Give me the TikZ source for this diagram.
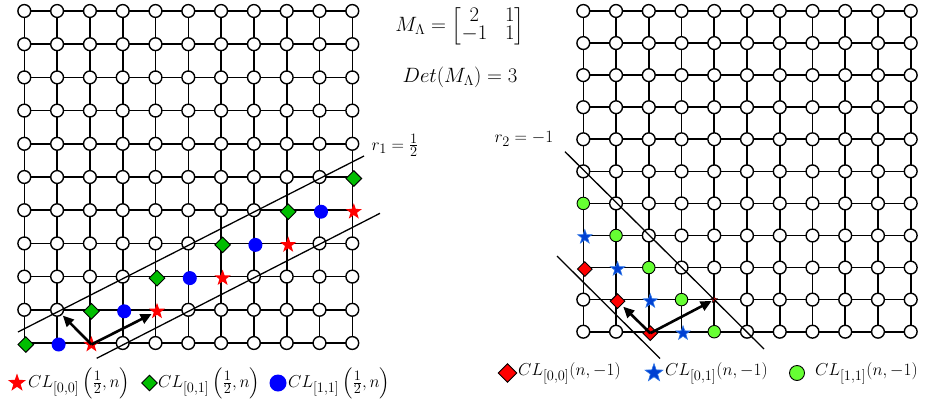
\documentclass[tikz,border=0pt]{standalone}
\usepackage{amsmath}
\usetikzlibrary{shapes.geometric,arrows.meta}
\definecolor{mred}{RGB}{255,0,0}
\definecolor{mgreen}{RGB}{0,190,0}
\definecolor{mblue}{RGB}{0,0,255}
\definecolor{sblue}{RGB}{0,64,210}
\definecolor{sblueedge}{RGB}{50,120,230}
\definecolor{lgreen}{RGB}{102,255,51}
\begin{document}
\begin{tikzpicture}[x=1pt,y=-1pt,
 dot/.style={circle,draw,fill=white,line width=1.4pt,minimum size=12.8pt,inner sep=0pt},
 gridline/.style={line width=1.6pt},
 cutline/.style={line width=1.3pt},
 vec/.style={line width=2.6pt,-{Triangle[length=11pt,width=10pt]}},
 rstar/.style={star,star points=5,star point ratio=2.5,fill=mred,inner sep=0pt,minimum size=17pt},
 gdiam/.style={diamond,draw,line width=0.9pt,fill=mgreen,inner sep=0pt,minimum size=16pt},
 bdot/.style={circle,fill=mblue,inner sep=0pt,minimum size=14pt},
 rdiam/.style={diamond,draw,line width=0.9pt,fill=mred,inner sep=0pt,minimum size=15pt},
 bstar/.style={star,star points=5,star point ratio=2.5,fill=sblue,draw=sblueedge,line width=0.6pt,inner sep=0pt,minimum size=15pt},
 tstar/.style={star,star points=5,star point ratio=2.3,fill=mred,draw=black,line width=0.4pt,inner sep=0pt,minimum size=7pt},
 gdot/.style={circle,draw,line width=0.9pt,fill=lgreen,inner sep=0pt,minimum size=12.5pt},
 lab/.style={inner sep=0pt,font=\fontsize{19}{23}\selectfont},
 biglab/.style={inner sep=0pt,font=\fontsize{20.5}{19}\selectfont},
 matlab/.style={inner sep=0pt,font=\fontsize{19.5}{17}\selectfont},
 mk/.style={xshift=1.5pt,yshift=-1.5pt}]
\useasboundingbox (0,0) rectangle (933,404);
% lattice coordinates
\foreach \i in {0,...,10}{\foreach \j in {0,...,10}{
  \coordinate (L-\i-\j) at ({24.3+32.8*\i},{343-33.2*\j});
  \coordinate (R-\i-\j) at ({583.3+32.74*\i},{331.7-32.07*\j});
}}
% grid lines
\foreach \k in {0,...,10}{
  \draw[gridline] (L-0-\k) -- (L-10-\k);
  \draw[gridline] (L-\k-0) -- (L-\k-10);
  \draw[gridline] (R-0-\k) -- (R-10-\k);
  \draw[gridline] (R-\k-0) -- (R-\k-10);
}
% white lattice circles
\foreach \i in {0,...,10}{\foreach \j in {0,...,10}{
  \pgfmathtruncatemacro\dl{\i-2*\j}
  \pgfmathtruncatemacro\dr{\i+\j}
  \pgfmathtruncatemacro\ml{and(\dl>-1,\dl<3)}
  \pgfmathtruncatemacro\mr{or(and(\dr>1,\dr<5),and(\i==4,\j==1))}
  \ifnum\ml=0 \node[dot] (LC-\i-\j) at (L-\i-\j) {};\fi
  \ifnum\mr=0 \node[dot] (RC-\i-\j) at (R-\i-\j) {};\fi
}}
% left markers
\foreach \i/\j in {0/0,2/1,4/2,6/3,8/4,10/5}{\node[gdiam,mk] (LD-\i-\j) at (L-\i-\j) {};}
\foreach \i/\j in {1/0,3/1,5/2,7/3,9/4}{\node[bdot,mk] (LB-\i-\j) at (L-\i-\j) {};}
\foreach \i/\j in {2/0,4/1,6/2,8/3,10/4}{\node[rstar,mk] (LS-\i-\j) at (L-\i-\j) {};}
% right markers
\foreach \i/\j in {2/0,1/1,0/2}{\node[rdiam,mk] (RD-\i-\j) at (R-\i-\j) {};}
\foreach \i/\j in {3/0,2/1,1/2,0/3}{\node[bstar,mk] (RS-\i-\j) at (R-\i-\j) {};}
\foreach \i/\j in {4/0,3/1,2/2,1/3,0/4}{\node[gdot] (RG-\i-\j) at (R-\i-\j) {};}
\node[tstar] (RT-4-1) at (R-4-1) {};
% cut lines
\coordinate (A1) at (18,332);   \coordinate (A2) at (364,156);
\coordinate (B1) at (96.7,358.3); \coordinate (B2) at (380,213.3);
\coordinate (C1) at (565,151.7); \coordinate (C2) at (764,349);
\coordinate (D1) at (557,256);   \coordinate (D2) at (660,358.5);
\draw[cutline] (A1) -- (A2);
\draw[cutline] (B1) -- (B2);
\draw[cutline] (C1) -- (C2);
\draw[cutline] (D1) -- (D2);
% basis vectors
\draw[vec,shorten >=1pt] (LS-2-0.center) -- (LC-1-1);
\draw[vec,shorten >=6pt] (LS-2-0.center) -- (LS-4-1.center);
\draw[vec,shorten >=8pt] (RD-2-0.center) -- (RD-1-1.center);
\draw[vec,shorten >=3pt] (RD-2-0.center) -- (RT-4-1.center);
% labels
\node[matlab] (mat) at (460,26) {$\arraycolsep=9pt\renewcommand\arraystretch{0.85}M_\Lambda=\begin{bmatrix}2&1\\-1&1\end{bmatrix}$};
\node[biglab] (det) at (460,77) {$Det(M_\Lambda)=3$};
\node[lab] (r1) at (395,145) {$r_1=\frac{1}{2}$};
\node[lab] (r2) at (524,139) {$r_2=-1$};
% left legend
\node[rstar,minimum size=19pt] (k1) at (17,383) {};
\node[lab,anchor=west] (t1) at (28,383) {$CL_{[0,0]}\,\Bigl(\frac{1}{2},n\Bigr)$};
\node[gdiam] (k2) at (149.5,383) {};
\node[lab,anchor=west] (t2) at (158,383) {$CL_{[0,1]}\,\Bigl(\frac{1}{2},n\Bigr)$};
\node[bdot,minimum size=17pt] (k3) at (278,383) {};
\node[lab,anchor=west] (t3) at (288,383) {$CL_{[1,1]}\,\Bigl(\frac{1}{2},n\Bigr)$};
% right legend
\node[rdiam,minimum size=19pt] (k4) at (507.5,373) {};
\node[lab,anchor=west] (t4) at (518,373) {$CL_{[0,0]}(n,-1)$};
\node[bstar,minimum size=19pt] (k5) at (654,373) {};
\node[lab,anchor=west] (t5) at (665,373) {$CL_{[0,1]}(n,-1)$};
\node[gdot,minimum size=15pt] (k6) at (797,373) {};
\node[lab,anchor=west] (t6) at (815,373) {$CL_{[1,1]}(n,-1)$};
\end{tikzpicture}
\end{document}
